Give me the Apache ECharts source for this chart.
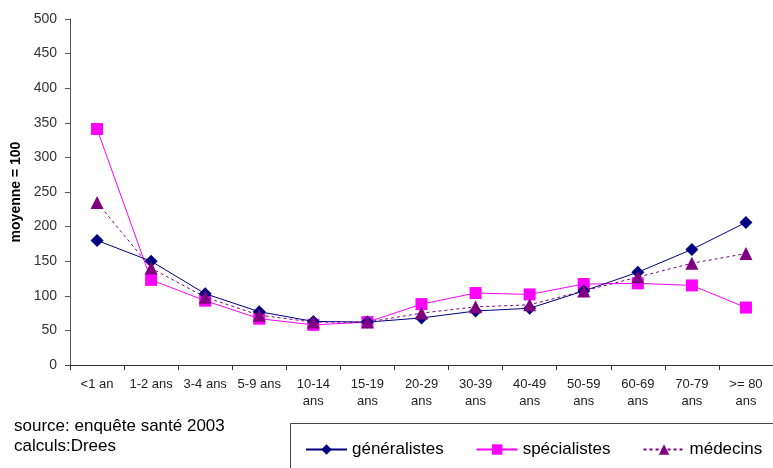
<!DOCTYPE html>
<html>
<head>
<meta charset="utf-8">
<script src="https://cdn.jsdelivr.net/npm/echarts@6/dist/echarts.min.js"></script>
<style>
  html, body { margin: 0; padding: 0; background: #fff; }
  #chart { width: 773px; height: 468px; }
</style>
</head>
<body>
<div id="chart"></div>
<script>
// Age groups (x axis)
const categories = ['<1 an', '1-2 ans', '3-4 ans', '5-9 ans', '10-14\nans', '15-19\nans',
  '20-29\nans', '30-39\nans', '40-49\nans', '50-59\nans', '60-69\nans', '70-79\nans', '>= 80\nans'];

// Consumption index by age (average = 100)
const generalistes = [180, 150, 103, 77, 63, 62, 68, 78, 82, 107, 134, 167, 206];
const specialistes = [341, 123, 93, 67, 58, 62, 88, 104, 102, 117, 118, 115, 83];
const medecins     = [235, 140, 98, 72, 62, 62, 75, 84, 87, 107, 127, 147, 161];

const yTicks = { min: 0, max: 500, interval: 50 };

const font = 'Liberation Sans, Arial, sans-serif';
const chart = echarts.init(document.getElementById('chart'), null, { renderer: 'canvas' });

chart.setOption({
  animation: false,
  backgroundColor: '#ffffff',
  grid: { left: 70, top: 19, right: -7, bottom: 103, containLabel: false },
  xAxis: {
    type: 'category',
    data: categories,
    boundaryGap: true,
    axisLine: { lineStyle: { color: '#333', width: 1 } },
    axisTick: { show: true, alignWithLabel: false, length: 5, lineStyle: { color: '#333' } },
    axisLabel: { color: '#222', fontFamily: font, fontSize: 13, margin: 11, lineHeight: 17, interval: 0 }
  },
  yAxis: {
    type: 'value',
    min: yTicks.min, max: yTicks.max, interval: yTicks.interval,
    name: 'moyenne = 100',
    nameLocation: 'middle',
    nameGap: 45,
    nameRotate: 90,
    nameTextStyle: { color: '#000', fontFamily: font, fontSize: 14, fontWeight: 'bold' },
    splitLine: { show: false },
    axisLine: { show: true, lineStyle: { color: '#555', width: 1 } },
    axisTick: { show: true, length: 5, lineStyle: { color: '#555' } },
    axisLabel: { color: '#333', fontFamily: font, fontSize: 14, margin: 13 }
  },
  legend: {
    left: 305, top: 441, padding: 0,
    itemWidth: 41, itemHeight: 13, itemGap: 32,
    textStyle: { color: '#000', fontFamily: font, fontSize: 17 },
    data: ['généralistes', 'spécialistes', 'médecins']
  },
  graphic: [
    { type: 'rect', left: 288, top: 421, shape: { width: 500, height: 60 },
      style: { fill: 'none', stroke: '#444', lineWidth: 1 }, z: -1 },
    { type: 'text', left: 14, top: 418,
      style: { text: 'source: enquête santé 2003', fill: '#000', font: '17px ' + font } },
    { type: 'text', left: 14, top: 438,
      style: { text: 'calculs:Drees', fill: '#000', font: '17px ' + font } }
  ],
  series: [
    {
      name: 'généralistes', type: 'line', data: generalistes,
      symbol: 'diamond', symbolSize: 13,
      itemStyle: { color: '#000080' },
      lineStyle: { color: '#000080', width: 1 }, z: 3
    },
    {
      name: 'spécialistes', type: 'line', data: specialistes,
      symbol: 'rect', symbolSize: 12,
      itemStyle: { color: '#ff00ff' },
      lineStyle: { color: '#ff00ff', width: 1 }, z: 2
    },
    {
      name: 'médecins', type: 'line', data: medecins,
      symbol: 'triangle', symbolSize: 13,
      itemStyle: { color: '#800080' },
      lineStyle: { color: '#800080', width: 1, type: [3, 3] }, z: 4
    }
  ]
});
</script>
</body>
</html>
